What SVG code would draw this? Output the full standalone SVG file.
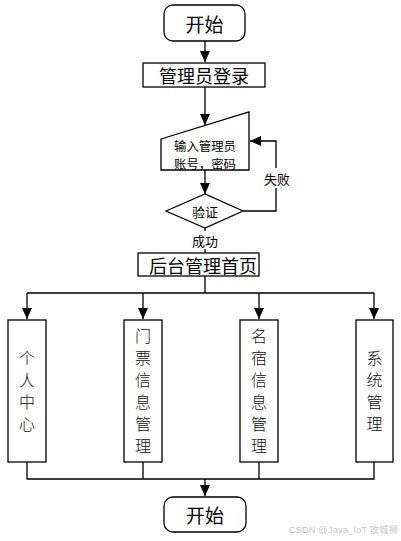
<svg xmlns="http://www.w3.org/2000/svg" width="401" height="541" viewBox="0 0 401 541">
<style>
.box{fill:#fff;stroke:#000;stroke-width:1.3}
.ln{fill:none;stroke:#000;stroke-width:1.3}
.t{font-family:"Noto Sans CJK SC","Liberation Sans",sans-serif;fill:#000;text-anchor:middle;dominant-baseline:central}
.v{font-family:"Noto Sans CJK SC","Liberation Sans",sans-serif;fill:#111;text-anchor:middle;font-size:16px;font-weight:300;writing-mode:vertical-rl;letter-spacing:6px}
.lbl{fill:#fff}
</style>
<defs>
<marker id="ah" markerUnits="userSpaceOnUse" markerWidth="12" markerHeight="12" viewBox="0 0 12 12" refX="11" refY="6" orient="auto">
<path d="M0,1 L11,6 L0,11 Z" fill="#000"/>
</marker>
</defs>
<g id="connectors">
<path class="ln" d="M205,41 V62" marker-end="url(#ah)"/>
<path class="ln" d="M205,87 V125" marker-end="url(#ah)"/>
<path class="ln" d="M205,170 V194" marker-end="url(#ah)"/>
<path class="ln" d="M243,211 H276 V141 H250" marker-end="url(#ah)"/>
<path class="ln" d="M205,228 V253"/>
<path class="ln" d="M205,276 V293 M27,293 H374"/>
<path class="ln" d="M27,293 V319" marker-end="url(#ah)"/>
<path class="ln" d="M143,293 V319" marker-end="url(#ah)"/>
<path class="ln" d="M259,293 V319" marker-end="url(#ah)"/>
<path class="ln" d="M374,293 V319" marker-end="url(#ah)"/>
<path class="ln" d="M27,462 V479 H374 V462 M143,462 V479 M259,462 V479"/>
<path class="ln" d="M205,479 V496" marker-end="url(#ah)"/>
<rect class="lbl" x="264" y="168" width="26" height="20"/>
<text class="t" x="277" y="178" font-size="13">失败</text>
<rect class="lbl" x="191" y="231" width="28" height="18"/>
<text class="t" x="205" y="240" font-size="13">成功</text>
</g>
<g id="start">
<rect class="box" x="164" y="5" width="81" height="36" rx="9"/>
<text class="t" x="204.5" y="23" font-size="19">开始</text>
</g>
<g id="login">
<rect class="box" x="143" y="63" width="122" height="24"/>
<text class="t" x="204" y="75" font-size="18">管理员登录</text>
</g>
<g id="input">
<polygon class="box" points="161,139 249,112 249,170 161,170"/>
<text class="t" font-size="12.4"><tspan x="205" y="145.5">输入管理员</tspan><tspan x="205" y="163.5">账号，密码</tspan></text>
</g>
<g id="verify">
<polygon class="box" points="166,211 205,194 243,211 205,228"/>
<text class="t" x="205" y="211" font-size="13">验证</text>
</g>
<g id="home">
<rect class="box" x="138" y="253" width="121" height="23"/>
<text class="t" x="203" y="264.5" font-size="18">后台管理首页</text>
</g>
<g id="personal">
<rect class="box" x="8" y="320" width="38" height="142"/>
<text class="v" x="27" y="394" letter-spacing="7px">个人中心</text>
</g>
<g id="ticket">
<rect class="box" x="124" y="320" width="38" height="142"/>
<text class="v" x="143" y="394">门票信息管理</text>
</g>
<g id="hostel">
<rect class="box" x="240" y="320" width="38" height="142"/>
<text class="v" x="259" y="394">名宿信息管理</text>
</g>
<g id="system">
<rect class="box" x="356" y="320" width="37" height="142"/>
<text class="v" x="374.5" y="394">系统管理</text>
</g>
<g id="end">
<rect class="box" x="164" y="497" width="82" height="35" rx="9"/>
<text class="t" x="205" y="514.5" font-size="19">开始</text>
</g>
<text x="398" y="533" font-family="'Liberation Sans','Noto Sans CJK SC',sans-serif" font-size="9.5" fill="#c8c8c8" text-anchor="end">CSDN @Java_IoT 攻城狮</text>
</svg>
